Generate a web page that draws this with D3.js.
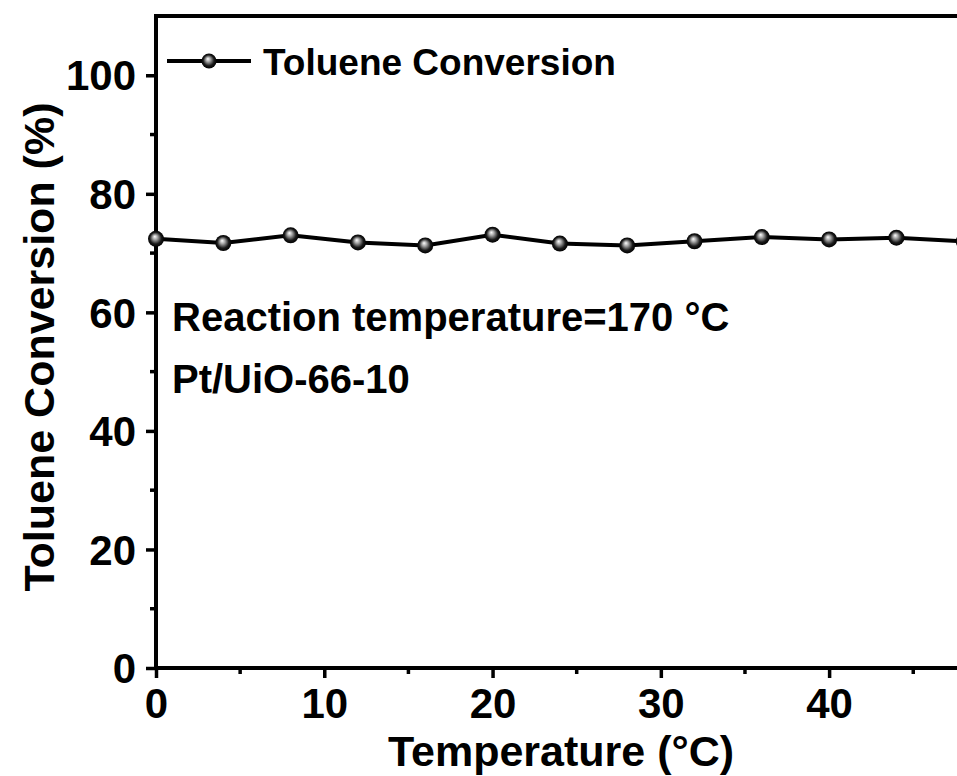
<!DOCTYPE html>
<html>
<head>
<meta charset="utf-8">
<script src="https://cdn.jsdelivr.net/npm/d3@7"></script>
<style>
  body { margin: 0; background: #fff; }
  svg { display: block; }
  text { font-family: "Liberation Sans", Arial, sans-serif; font-weight: bold; fill: #000; }
</style>
</head>
<body>
<svg id="chart" width="957" height="776"></svg>
<script>
// data
var timePoints = [0, 4, 8, 12, 16, 20, 24, 28, 32, 36, 40, 44, 48];
var conversion = [72.4, 71.7, 73.0, 71.8, 71.3, 73.1, 71.6, 71.3, 72.0, 72.7, 72.3, 72.6, 72.0];
var xTicks = [0, 10, 20, 30, 40];
var xMinor = [5, 15, 25, 35, 45];
var yTicks = [0, 20, 40, 60, 80, 100];
var yMinor = [10, 30, 50, 70, 90];
var seriesName = "Toluene Conversion";
var notes = ["Reaction temperature=170 °C", "Pt/UiO-66-10"];

var svg = d3.select("#chart");
var plotL = 156, plotR = 957, plotT = 16, plotB = 668;

var x = d3.scaleLinear().domain([0, 47.6]).range([plotL, plotR]);
var y = d3.scaleLinear().domain([0, 110]).range([plotB, plotT]);

// sphere look for the markers
var defs = svg.append("defs");
var grad = defs.append("radialGradient").attr("id", "ball")
    .attr("cx", "0.5").attr("cy", "0.5").attr("r", "0.5")
    .attr("fx", "0.42").attr("fy", "0.35");
grad.append("stop").attr("offset", "0%").attr("stop-color", "#ffffff");
grad.append("stop").attr("offset", "30%").attr("stop-color", "#a8a8a8");
grad.append("stop").attr("offset", "72%").attr("stop-color", "#1a1a1a");
grad.append("stop").attr("offset", "100%").attr("stop-color", "#000");

defs.append("clipPath").attr("id", "plotClip").append("rect")
    .attr("x", plotL - 12).attr("y", plotT).attr("width", plotR - plotL + 12).attr("height", plotB - plotT);

// axes
var xAxis = d3.axisBottom(x).tickValues(xTicks).tickSize(10).tickPadding(10).tickFormat(d3.format("d"));
var yAxis = d3.axisLeft(y).tickValues(yTicks).tickSize(10).tickPadding(10).tickFormat(d3.format("d"));

var gx = svg.append("g").attr("transform", "translate(0," + plotB + ")").call(xAxis);
var gy = svg.append("g").attr("transform", "translate(" + plotL + ",0)").call(yAxis);

[gx, gy].forEach(function (g) {
    g.select(".domain").remove();
    g.selectAll(".tick line").attr("stroke", "#000").attr("stroke-width", 3.5);
    g.selectAll(".tick text").style("font-size", "42px");
});
gy.selectAll(".tick text").attr("dy", "0.35em");

// minor ticks
svg.append("g").selectAll("line").data(xMinor).enter().append("line")
    .attr("x1", function (d) { return x(d); }).attr("x2", function (d) { return x(d); })
    .attr("y1", plotB).attr("y2", plotB + 6)
    .attr("stroke", "#000").attr("stroke-width", 3.5);
svg.append("g").selectAll("line").data(yMinor).enter().append("line")
    .attr("y1", function (d) { return y(d); }).attr("y2", function (d) { return y(d); })
    .attr("x1", plotL).attr("x2", plotL - 6)
    .attr("stroke", "#000").attr("stroke-width", 3.5);

// frame lines (left, bottom, top)
svg.append("path")
    .attr("d", "M" + plotR + "," + plotT + "H" + plotL + "V" + plotB + "H" + plotR)
    .attr("fill", "none").attr("stroke", "#000").attr("stroke-width", 4);

// axis titles
svg.append("text").attr("x", 561).attr("y", 766).attr("text-anchor", "middle")
    .style("font-size", "43px").text("Temperature (°C)");
svg.append("text").attr("transform", "translate(54,347) rotate(-90)").attr("text-anchor", "middle")
    .style("font-size", "43px").text("Toluene Conversion (%)");

// series
var lineFun = d3.line()
    .x(function (d, i) { return x(timePoints[i]); })
    .y(function (d) { return y(d); });

var plot = svg.append("g").attr("clip-path", "url(#plotClip)");
plot.append("path").attr("d", lineFun(conversion))
    .attr("fill", "none").attr("stroke", "#000").attr("stroke-width", 4);
plot.selectAll("circle").data(conversion).enter().append("circle")
    .attr("cx", function (d, i) { return x(timePoints[i]); })
    .attr("cy", function (d) { return y(d); })
    .attr("r", 8)
    .attr("fill", "url(#ball)");

// legend
var legY = 61;
svg.append("line").attr("x1", 167).attr("x2", 251).attr("y1", legY).attr("y2", legY)
    .attr("stroke", "#000").attr("stroke-width", 4);
svg.append("circle").attr("cx", 209).attr("cy", legY).attr("r", 7.5).attr("fill", "url(#ball)");
svg.append("text").attr("x", 263).attr("y", legY + 14).style("font-size", "37px").text(seriesName);

// notes
svg.append("g").selectAll("text").data(notes).enter().append("text")
    .attr("x", 172).attr("y", function (d, i) { return 331 + i * 62; })
    .style("font-size", "40px")
    .text(function (d) { return d; });
</script>
</body>
</html>
